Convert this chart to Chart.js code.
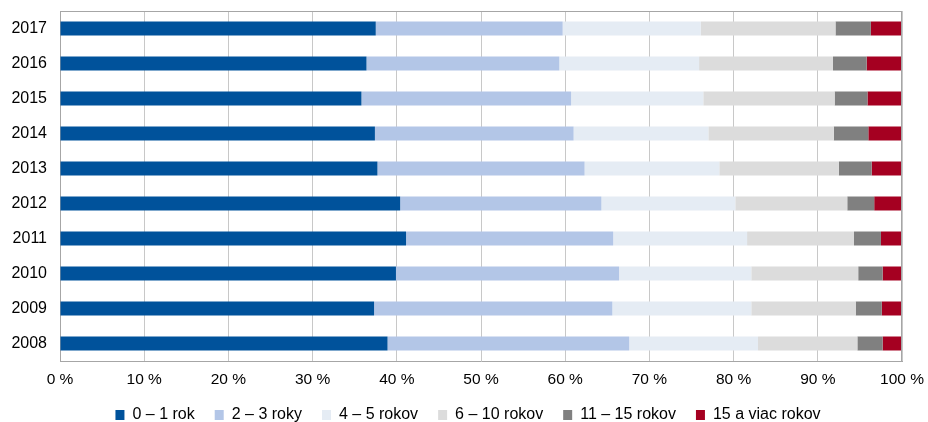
<!DOCTYPE html>
<html>
<head>
<meta charset="utf-8">
<script src="https://cdn.jsdelivr.net/npm/chart.js@4/dist/chart.umd.min.js"></script>
<style>
html,body{margin:0;padding:0;background:#fff;}
#wrap{width:928px;height:422px;position:relative;}
</style>
</head>
<body>
<div id="wrap"><canvas id="c" width="928" height="422"></canvas></div>
<script>
const years = ['2017','2016','2015','2014','2013','2012','2011','2010','2009','2008'];
const seriesNames = ['0 – 1 rok','2 – 3 roky','4 – 5 rokov','6 – 10 rokov','11 – 15 rokov','15 a viac rokov'];
const s0_1   = [37.5, 36.4, 35.8, 37.4, 37.7, 40.4, 41.1, 39.9, 37.3, 38.9];
const s2_3   = [22.2, 22.9, 24.9, 23.6, 24.6, 23.9, 24.6, 26.5, 28.3, 28.7];
const s4_5   = [16.4, 16.6, 15.7, 16.0, 16.0, 15.9, 15.9, 15.7, 16.5, 15.3];
const s6_10  = [16.0, 15.9, 15.6, 14.9, 14.2, 13.3, 12.7, 12.7, 12.4, 11.8];
const s11_15 = [4.2, 4.0, 3.9, 4.1, 3.9, 3.2, 3.2, 2.9, 3.1, 3.0];
const s15p   = [3.7, 4.2, 4.1, 4.0, 3.6, 3.3, 2.5, 2.3, 2.4, 2.3];
const xTicks = [0,10,20,30,40,50,60,70,80,90,100];

const colors = ['#00529B','#B3C6E7','#E5ECF4','#DCDCDC','#808080','#A50021'];
const allSeries = [s0_1, s2_3, s4_5, s6_10, s11_15, s15p];

const FONT = "'Liberation Sans', Arial, sans-serif";

new Chart(document.getElementById('c'), {
  type: 'bar',
  data: {
    labels: years,
    datasets: allSeries.map((d, i) => ({
      label: seriesNames[i],
      data: d,
      backgroundColor: colors[i],
      borderWidth: 0,
      barPercentage: 0.8,
      categoryPercentage: 0.5
    }))
  },
  options: {
    indexAxis: 'y',
    responsive: false,
    animation: false,
    devicePixelRatio: 1,
    layout: { padding: { top: 11, right: 26, left: 0, bottom: 0 } },
    plugins: {
      legend: {
        position: 'bottom',
        labels: {
          font: { family: FONT, size: 16 },
          color: '#000',
          boxWidth: 9,
          boxHeight: 10,
          padding: 20
        }
      },
      tooltip: { enabled: false }
    },
    scales: {
      x: {
        stacked: true,
        min: 0,
        max: 100,
        afterBuildTicks: (scale) => { scale.ticks = xTicks.map(v => ({ value: v })); },
        afterFit: (scale) => { scale.height = 26; scale.paddingLeft = 0; scale.paddingRight = 0; },
        ticks: {
          font: { family: FONT, size: 15.5 },
          color: '#000',
          padding: 9,
          maxRotation: 0,
          callback: (v) => v + ' %'
        },
        grid: { color: '#C8C8C8', lineWidth: 1, drawTicks: false },
        border: { display: true, color: '#A6A6A6', width: 1 }
      },
      y: {
        stacked: true,
        afterFit: (scale) => { scale.width = 60; scale.paddingTop = 0; scale.paddingBottom = 0; },
        ticks: {
          font: { family: FONT, size: 16 },
          color: '#000',
          padding: 13
        },
        grid: { display: false, drawTicks: false },
        border: { display: true, color: '#A6A6A6', width: 1 }
      }
    }
  },
  plugins: [{
    id: 'legendHeight',
    beforeLayout(chart) {
      const lg = chart.legend;
      if (lg && !lg._fixedH) {
        const orig = lg.fit.bind(lg);
        lg.fit = function () { orig(); this.height = 35; };
        lg._fixedH = true;
      }
    },
    afterLayout(chart) {
      const lg = chart.legend;
      if (lg) { lg.left += 17; lg.right += 17; }
    }
  }, {
    id: 'frame',
    afterDraw(chart) {
      const { ctx, chartArea: a } = chart;
      ctx.save();
      ctx.strokeStyle = '#A6A6A6';
      ctx.lineWidth = 1;
      ctx.beginPath();
      ctx.moveTo(a.left, a.top + 0.5);
      ctx.lineTo(a.right, a.top + 0.5);
      ctx.moveTo(a.right - 0.5, a.top);
      ctx.lineTo(a.right - 0.5, a.bottom);
      ctx.stroke();
      ctx.restore();
    }
  }]
});
</script>
</body>
</html>
